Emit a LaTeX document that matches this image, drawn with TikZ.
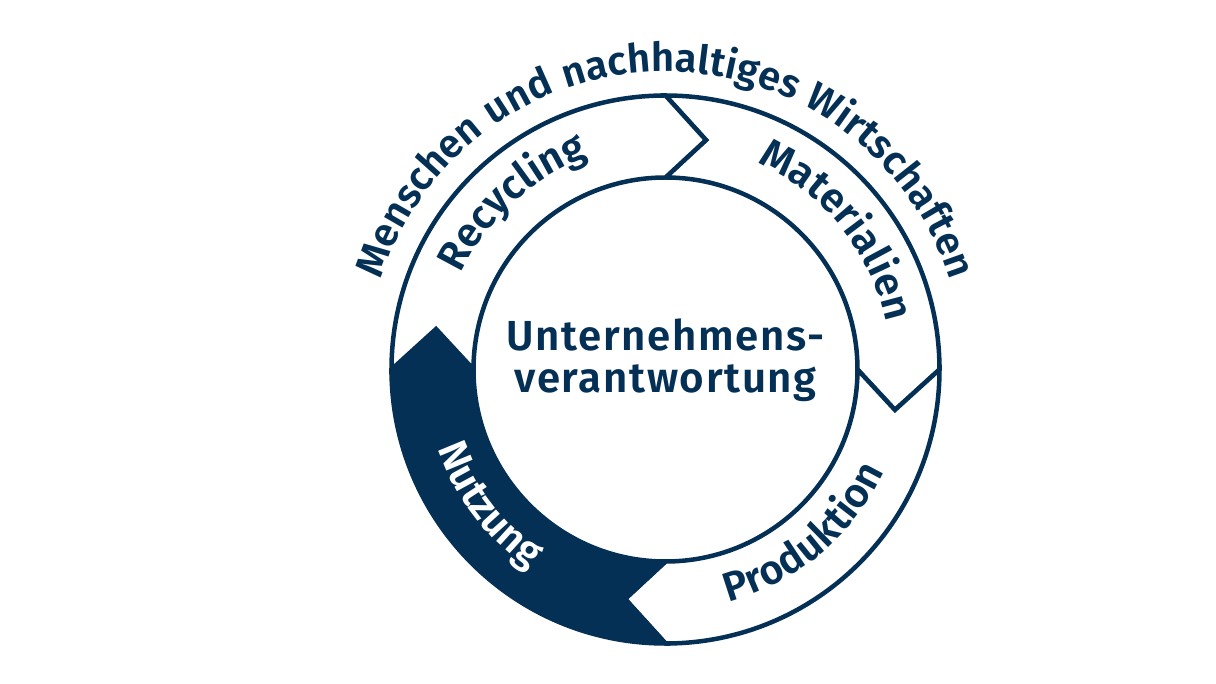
\documentclass[tikz,border=0pt]{standalone}
\usepackage{fontspec}
\setmainfont{Fira Sans}[BoldFont={Fira Sans SemiBold}, BoldFeatures={LetterSpace=4}]
\usetikzlibrary{decorations.text}
\definecolor{navy}{RGB}{5,48,86}

\begin{document}
\begin{tikzpicture}[
	ring line/.style={draw=navy, line width=4.5pt},
	light part/.style={ring line, fill=white},
	dark part/.style={ring line, fill=navy}]
	\useasboundingbox (-665.5pt,-314.5pt) rectangle (550.5pt,369.5pt);

	% ring parts, head angle / style
	\foreach \h/\kind in {0/light part, -90/light part, 180/dark part, 90/light part}
		\path[\kind] (\h+90:274pt) arc[start angle=\h+90, end angle=\h, radius=274pt]
			-- (\h-10:233pt) -- (\h:192pt)
			arc[start angle=\h, end angle=\h+90, radius=192pt]
			-- (\h+80:233pt) -- cycle;

	% centre
	\node[text=navy, align=center, font=\fontsize{42}{42}\selectfont\bfseries] (centre) at (0pt,9pt) {Unternehmens-\\verantwortung};

	% outer text
	\path[decorate, decoration={text along path, text align=center, text color=navy,
		text={|\fontsize{40}{42}\selectfont\bfseries|Menschen und nachhaltiges Wirtschaften}}]
		(180:298pt) arc[start angle=180, end angle=0, radius=298pt];

	% part labels
	\path[decorate, decoration={text along path, text align=center, text color=navy,
		text={|\fontsize{41}{42}\selectfont\bfseries|Recycling}}]
		(177.5:226pt) arc[start angle=177.5, end angle=87.5, radius=226pt];
	\path[decorate, decoration={text along path, text align=center, text color=navy,
		text={|\fontsize{41}{42}\selectfont\bfseries|Materialien}}]
		(84:226pt) arc[start angle=84, end angle=-6, radius=226pt];
	\path[decorate, decoration={text along path, text align=center, text color=navy,
		text={|\fontsize{41}{42}\selectfont\bfseries|Produktion}}]
		(265:241pt) arc[start angle=265, end angle=355, radius=241pt];
	\path[decorate, decoration={text along path, text align=center, text color=white,
		text={|\fontsize{41}{42}\selectfont\bfseries|Nutzung}}]
		(172.5:241pt) arc[start angle=172.5, end angle=262.5, radius=241pt];
\end{tikzpicture}
\end{document}
